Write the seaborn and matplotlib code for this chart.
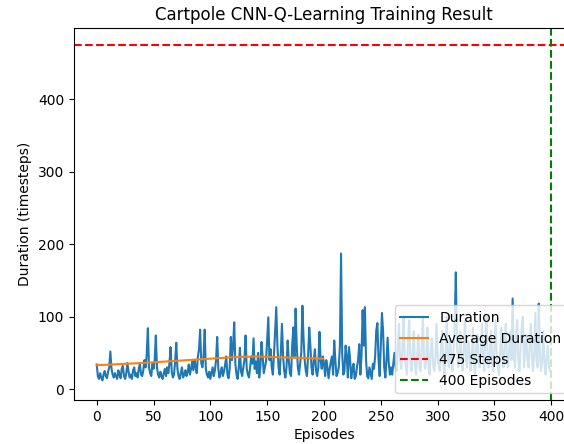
import numpy as np
import pandas as pd
import matplotlib
matplotlib.use("Agg")
import matplotlib.pyplot as plt
import seaborn as sns

duration = [
    34, 18, 14, 22, 16, 12, 20, 25, 18, 15, 24, 30, 52, 28, 20, 16, 22, 18, 14, 26,
    20, 15, 28, 32, 18, 14, 22, 36, 24, 16, 20, 14, 26, 30, 18, 22, 16, 28, 35, 20,
    18, 26, 40, 30, 48, 84, 30, 22, 18, 35, 28, 40, 74, 30, 20, 16, 24, 18, 14, 22,
    28, 18, 30, 22, 36, 58, 24, 16, 20, 38, 64, 28, 18, 14, 22, 30, 16, 20, 26, 18,
    24, 34, 20, 28, 38, 26, 40, 30, 22, 45, 55, 82, 36, 30, 45, 82, 28, 20, 16, 24,
    14, 22, 30, 18, 26, 40, 72, 28, 16, 22, 30, 18, 24, 34, 45, 20, 15, 28, 72, 40,
    60, 92, 35, 20, 14, 30, 57, 24, 18, 30, 40, 74, 28, 20, 16, 30, 45, 35, 70, 28,
    38, 22, 50, 16, 30, 65, 45, 22, 30, 38, 70, 99, 40, 55, 30, 20, 48, 80, 113, 60,
    30, 20, 50, 90, 45, 25, 16, 30, 67, 40, 22, 18, 60, 85, 45, 111, 60, 30, 20, 35,
    50, 115, 70, 40, 25, 18, 45, 85, 60, 30, 20, 40, 55, 25, 18, 30, 79, 40, 28, 45,
    35, 18, 40, 30, 15, 28, 38, 45, 20, 67, 40, 18, 22, 30, 60, 187, 50, 20, 25, 60,
    45, 16, 58, 40, 15, 28, 35, 14, 18, 30, 40, 62, 20, 45, 109, 60, 113, 40, 18, 15,
    30, 22, 14, 35, 28, 45, 81, 91, 40, 18, 60, 105, 80, 30, 16, 40, 71, 36, 20, 30,
    20, 35, 50, 30, 25, 60, 90, 40, 28, 55, 100, 45, 30, 20, 70, 95, 40, 25, 50, 80,
    35, 20, 45, 75, 30, 25, 60, 100, 45, 28, 40, 85, 30, 20, 55, 70, 35, 25, 40, 90,
    45, 30, 25, 60, 80, 35, 20, 50, 100, 40, 30, 70, 45, 25, 55, 90, 161, 60, 30, 45,
    80, 40, 25, 55, 95, 40, 30, 65, 50, 25, 40, 85, 35, 20, 60, 75, 40, 30, 50, 90,
    45, 25, 70, 100, 40, 30, 55, 80, 35, 25, 60, 95, 45, 30, 20, 50, 85, 40, 30, 65,
    90, 45, 30, 55, 80, 40, 125, 50, 30, 70, 95, 40, 25, 60, 85, 100, 30, 55, 75, 40,
    30, 60, 90, 45, 25, 50, 105, 40, 30, 118, 50, 25, 40, 80, 35, 20, 45, 60, 30, 25,
]
episodes = list(range(len(duration)))

avg_episodes = [0, 20, 40, 60, 80, 100, 120, 140, 160, 180, 199]
avg_duration = [33, 34.5, 36, 38, 40, 42, 44, 45, 44, 43, 42]

target_steps = 475
target_episodes = 400

df = pd.DataFrame({"Episode": episodes, "Duration": duration})
df_avg = pd.DataFrame({"Episode": avg_episodes, "Average": avg_duration})

fig = plt.figure(figsize=(5.64, 4.44), dpi=100)
ax_w = 540
ax = fig.add_axes([74 / 564, 44 / 444, ax_w / 564, 372 / 444])

sns.lineplot(data=df, x="Episode", y="Duration", ax=ax, color="tab:blue", label="Duration")
sns.lineplot(data=df_avg, x="Episode", y="Average", ax=ax, color="tab:orange", label="Average Duration")
ax.axhline(target_steps, color="red", linestyle="--", label="475 Steps")
ax.axvline(target_episodes, color="green", linestyle="--", label="400 Episodes")

px_per_unit = 500 / 440
ax.set_xlim(-20, -20 + ax_w / px_per_unit)
ax.set_ylim(-15, 498)
ax.set_xticks([0, 50, 100, 150, 200, 250, 300, 350, 400])
ax.set_yticks([0, 100, 200, 300, 400])
ax.spines["right"].set_visible(False)
ax.set_title("Cartpole CNN-Q-Learning Training Result", x=250 / ax_w)
ax.set_xlabel("Episodes")
ax.xaxis.set_label_coords(250 / ax_w, -0.075)
ax.set_ylabel("Duration (timesteps)")
ax.legend(loc="lower right", bbox_to_anchor=(500 / ax_w, 0))

fig.savefig("out.png", dpi=100)
